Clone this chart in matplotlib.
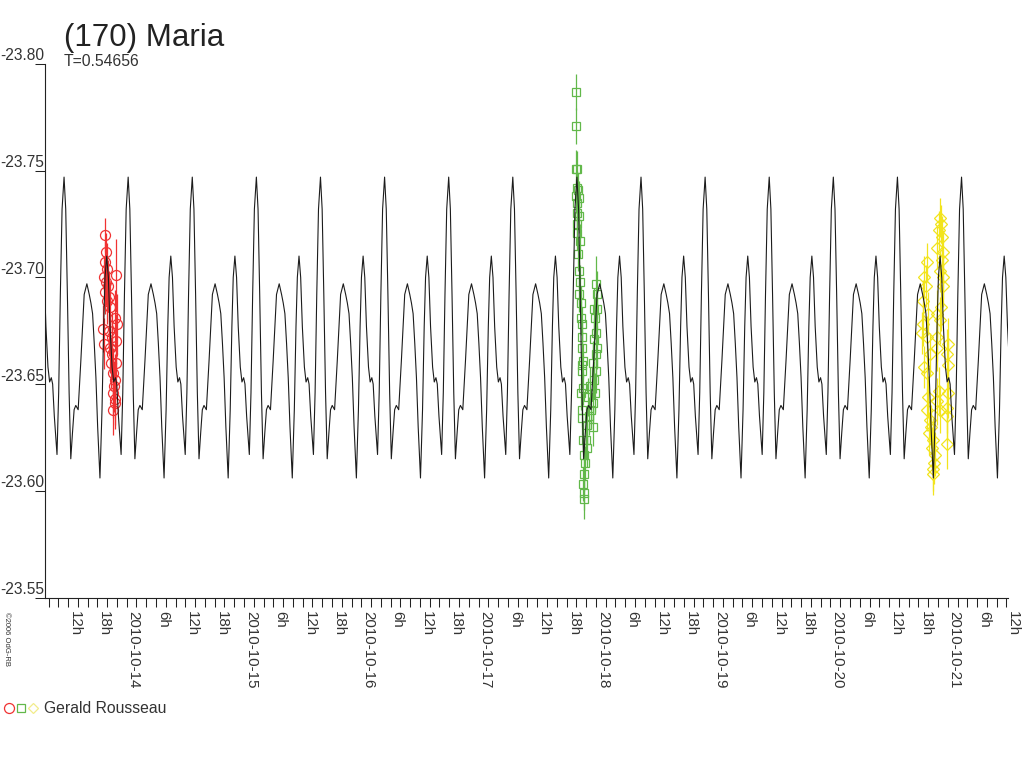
import matplotlib
matplotlib.use('Agg')
import matplotlib.pyplot as plt
import matplotlib.dates as mdates
import matplotlib.transforms as mtransforms
from matplotlib.lines import Line2D
import numpy as np
from datetime import datetime, timedelta

plt.rcParams['font.family'] = ['Liberation Sans', 'DejaVu Sans']

# ---------------- data ----------------
title = "(170) Maria"
period_label = "T=0.54656"
period_days = 0.54656
epoch = datetime(2010, 10, 14, 0, 18)          # time of a main maximum of the model curve
observer = "Gerald Rousseau"

# one cycle of the model light curve (phase, magnitude)
curve_phase = [0.000, 0.026, 0.052, 0.079, 0.105, 0.131, 0.157, 0.183, 0.220, 0.262,
               0.314, 0.356, 0.393, 0.419, 0.445, 0.471, 0.497, 0.524, 0.560, 0.592,
               0.618, 0.639, 0.665, 0.691, 0.717, 0.749, 0.775, 0.801, 0.822, 0.848,
               0.890, 0.916, 0.942, 0.969]
curve_mag = [-23.747, -23.732, -23.692, -23.646, -23.615, -23.627, -23.638, -23.640, -23.638, -23.661,
             -23.692, -23.697, -23.692, -23.688, -23.683, -23.669, -23.653, -23.630, -23.606, -23.638,
             -23.677, -23.700, -23.710, -23.700, -23.677, -23.658, -23.651, -23.653, -23.650, -23.635,
             -23.617, -23.646, -23.692, -23.732]

# night 1 (2010-10-13), hours UT
red_date = datetime(2010, 10, 13)
red_hours = [19.63, 19.83, 21.82, 19.49, 19.97, 19.29, 19.77, 20.17, 19.49, 20.45,
             19.97, 20.66, 21.68, 22.02, 19.08, 20.32, 21.00, 19.29, 20.66, 21.82,
             21.00, 20.86, 21.82, 21.14, 21.55, 21.34, 21.14, 21.68, 21.55, 21.27]
red_mag = [-23.720, -23.712, -23.701, -23.707, -23.704, -23.700, -23.698, -23.696, -23.693, -23.691,
           -23.689, -23.686, -23.681, -23.678, -23.676, -23.675, -23.672, -23.669, -23.667, -23.670,
           -23.664, -23.660, -23.660, -23.655, -23.652, -23.649, -23.646, -23.643, -23.641, -23.638]
red_err = [0.008, 0.009, 0.017, 0.010, 0.012, 0.010, 0.011, 0.012, 0.010, 0.012,
           0.011, 0.012, 0.013, 0.014, 0.011, 0.012, 0.012, 0.012, 0.012, 0.013,
           0.012, 0.012, 0.013, 0.012, 0.012, 0.012, 0.012, 0.012, 0.012, 0.012]

# night 2 (2010-10-17), hours UT (values > 24 belong to the next day)
green_date = datetime(2010, 10, 17)
green_hours = [19.87, 19.87, 19.94, 20.20, 20.08, 20.41, 19.94, 20.61, 20.20, 20.08,
               20.61, 20.20, 20.08, 20.76, 20.41, 20.61, 20.76, 20.61, 20.90, 20.90,
               21.10, 21.10, 21.10, 21.31, 21.10, 21.10, 21.31, 20.90, 21.10, 21.10,
               21.31, 21.57, 21.78, 21.57, 21.43, 21.57, 21.57,
               22.25, 21.98, 23.48, 22.13, 22.66, 22.94, 23.35, 22.45, 23.82, 22.80,
               23.62, 24.03, 23.48, 24.03, 24.17, 23.62, 24.03, 23.82, 24.17, 23.62,
               24.29, 24.03]
green_mag = [-23.787, -23.771, -23.751, -23.751, -23.742, -23.741, -23.738, -23.737, -23.735, -23.730,
             -23.729, -23.725, -23.721, -23.717, -23.711, -23.703, -23.698, -23.692, -23.688, -23.681,
             -23.678, -23.672, -23.667, -23.661, -23.659, -23.656, -23.648, -23.646, -23.638, -23.634,
             -23.624, -23.617, -23.613, -23.608, -23.603, -23.599, -23.596,
             -23.620, -23.624, -23.630, -23.631, -23.635, -23.638, -23.641, -23.644, -23.646, -23.649,
             -23.652, -23.656, -23.660, -23.664, -23.667, -23.671, -23.674, -23.681, -23.685, -23.685,
             -23.692, -23.697]
green_err = [0.0085, 0.0086, 0.0085, 0.008, 0.008, 0.008, 0.008, 0.008, 0.008, 0.008,
             0.008, 0.008, 0.008, 0.008, 0.008, 0.008, 0.008, 0.008, 0.008, 0.008,
             0.008, 0.008, 0.008, 0.008, 0.008, 0.008, 0.008, 0.008, 0.008, 0.008,
             0.008, 0.008, 0.008, 0.008, 0.008, 0.008, 0.009,
             0.009, 0.009, 0.009, 0.009, 0.009, 0.009, 0.009, 0.009, 0.009, 0.009,
             0.009, 0.010, 0.010, 0.010, 0.010, 0.010, 0.010, 0.010, 0.010, 0.010,
             0.011, 0.013]

# night 3 (2010-10-20), hours UT (values > 24 belong to the next day)
yellow_date = datetime(2010, 10, 20)
yellow_hours = [19.70, 19.14, 19.55, 19.00, 20.02, 18.88, 18.67, 19.70, 20.37, 19.14,
                19.70, 20.02, 19.82, 20.37, 20.52, 20.23, 21.05, 20.72, 21.40, 21.19,
                20.93, 21.05,
                22.42, 22.56, 22.28, 22.77, 21.87, 23.10, 22.77, 22.42, 23.10, 22.97,
                22.56, 21.75, 22.42, 21.75, 21.87, 22.28, 21.87, 22.42,
                24.12, 23.79, 24.12, 24.12, 23.92, 23.79, 23.79]
yellow_mag = [-23.707, -23.700, -23.696, -23.689, -23.683, -23.678, -23.674, -23.672, -23.664, -23.658,
              -23.655, -23.644, -23.638, -23.633, -23.630, -23.627, -23.624, -23.620, -23.617, -23.613,
              -23.610, -23.608,
              -23.728, -23.725, -23.722, -23.719, -23.714, -23.712, -23.708, -23.703, -23.700, -23.696,
              -23.686, -23.683, -23.680, -23.672, -23.667, -23.647, -23.642, -23.638,
              -23.669, -23.664, -23.659, -23.646, -23.639, -23.635, -23.622]
yellow_err = [0.009, 0.010, 0.010, 0.010, 0.010, 0.010, 0.010, 0.010, 0.010, 0.010,
              0.010, 0.010, 0.010, 0.010, 0.010, 0.010, 0.010, 0.010, 0.010, 0.010,
              0.010, 0.010,
              0.009, 0.009, 0.009, 0.010, 0.010, 0.010, 0.010, 0.010, 0.010, 0.010,
              0.011, 0.011, 0.011, 0.011, 0.011, 0.011, 0.011, 0.011,
              0.012, 0.012, 0.012, 0.012, 0.012, 0.012, 0.012]

ytick_values = [-23.80, -23.75, -23.70, -23.65, -23.60, -23.55]
x_start = datetime(2010, 10, 13, 7, 17)
x_end = datetime(2010, 10, 21, 12, 20)
first_tick = datetime(2010, 10, 13, 8, 0)
last_tick = datetime(2010, 10, 21, 12, 0)

# ---------------- figure ----------------
W, H = 1024, 768
fig = plt.figure(figsize=(W / 100, H / 100), dpi=100)
ax_left, ax_right, ax_top, ax_bottom = 45, 1008, 64, 597.5
ax = fig.add_axes([ax_left / W, (H - ax_bottom) / H, (ax_right - ax_left) / W, (ax_bottom - ax_top) / H])

ax.set_xlim(mdates.date2num(x_start), mdates.date2num(x_end))
ax.set_ylim(-23.55, -23.80)

# model curve, repeated with the period
ep = mdates.date2num(epoch)
ct, cm = [], []
for k in range(-3, 17):
    for p, m in zip(curve_phase, curve_mag):
        ct.append(ep + (k + p) * period_days)
        cm.append(m)
ax.plot(ct, cm, color='#1c1c1c', lw=0.8, zorder=3)

# observations
groups = [
    (red_date, red_hours, red_mag, red_err, 'o', '#f03232', 7.2),
    (green_date, green_hours, green_mag, green_err, 's', '#62b84a', 5.4),
    (yellow_date, yellow_hours, yellow_mag, yellow_err, 'D', '#f2e41c', 5.8),
]
for base, hrs, mags, errs, mk, col, ms in groups:
    t = mdates.date2num(base) + np.array(hrs) / 24.0
    ax.errorbar(t, mags, yerr=errs, fmt='none', ecolor=col, elinewidth=0.9, capsize=0, zorder=2)
    ax.plot(t, mags, linestyle='none', marker=mk, mfc='none', mec=col, ms=ms, mew=0.9, zorder=2)

# axes styling
for s in ('top', 'right'):
    ax.spines[s].set_visible(False)
for s in ('left', 'bottom'):
    ax.spines[s].set_color('#222222')
    ax.spines[s].set_linewidth(0.8)

# y ticks: tick line under the label
ax.set_yticks(ytick_values)
ax.tick_params(axis='y', direction='out', length=7.5, width=0.75, color='#222222', labelleft=False)
ytrans = mtransforms.offset_copy(ax.get_yaxis_transform(), fig=fig, x=-1, y=0.5, units='dots')
for v in ytick_values:
    ax.text(0, v, f'{v:.2f}', transform=ytrans, ha='right', va='bottom', fontsize=11.2,
            color='#333333', clip_on=False)

# x ticks every 2 h, labels every 6 h
xticks, xlabels = [], []
cur = first_tick
while cur <= last_tick:
    xticks.append(mdates.date2num(cur))
    if cur.hour == 0:
        xlabels.append(cur.strftime('%Y-%m-%d'))
    elif cur.hour % 6 == 0:
        xlabels.append(f'{cur.hour}h')
    else:
        xlabels.append('')
    cur += timedelta(hours=2)
ax.set_xticks(xticks)
ax.set_xticklabels(xlabels, rotation=-90, ha='left', va='top', fontsize=10.9, color='#333333')
ax.tick_params(axis='x', direction='out', length=6.5, width=0.75, color='#222222', pad=3.5)

# texts
fig.text(64 / W, 1 - 46 / H, title, fontsize=22.5, va='baseline', ha='left', color='#222222')
fig.text(64 / W, 1 - 66.5 / H, period_label, fontsize=11.3, va='baseline', ha='left', color='#333333')
fig.text(3 / W, 1 - 612 / H, '©2006 OdG-RB', rotation=-90, fontsize=5.5, va='top', ha='left',
         color='#333333')

# legend
leg_items = [(9, '#f03232', 'o', 7.2), (21, '#62b84a', 's', 5.4), (33, '#f2ec8a', 'D', 5.4)]
for lx, col, mk, ms in leg_items:
    fig.add_artist(Line2D([lx / W], [1 - 708 / H], transform=fig.transFigure, marker=mk,
                          mfc='none', mec=col, ms=ms, mew=0.9, linestyle='none'))
fig.text(44 / W, 1 - 713 / H, observer, fontsize=11.3, va='baseline', ha='left', color='#333333')

fig.savefig('out.png', dpi=100)
